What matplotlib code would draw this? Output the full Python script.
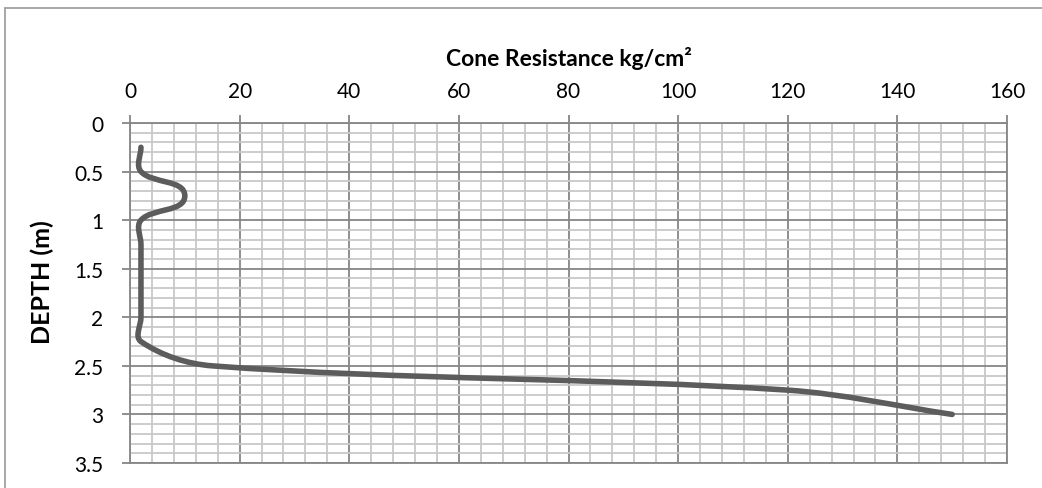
import numpy as np
import matplotlib
matplotlib.use('Agg')
import matplotlib.pyplot as plt
from matplotlib.path import Path
from matplotlib.patches import PathPatch, Rectangle
from matplotlib.ticker import MultipleLocator

# cone penetration readings
depth = [0.25, 0.5, 0.75, 1.0, 1.25, 1.5, 1.75, 2.0, 2.25, 2.5, 2.75, 3.0]
resistance = [2, 2, 10, 2, 2, 2, 2, 2, 2, 15, 120, 150]

x_ticks = [0, 20, 40, 60, 80, 100, 120, 140, 160]
y_ticks = [0, 0.5, 1, 1.5, 2, 2.5, 3, 3.5]

plt.rcParams['font.family'] = ['Lato', 'DejaVu Sans']

W, H = 1042, 489
fig = plt.figure(figsize=(W / 100, H / 100), dpi=100)
ax = fig.add_axes([130 / W, 1 - 464 / H, 877 / W, 340 / H])

ax.set_xlim(0, 160)
ax.set_ylim(3.5, 0)


def smooth_path(ax, xs, ys, s=1 / 3.0):
    # excel-like smoothed line, worked out on screen coordinates:
    # tangent through neighbours, handle length scaled by segment length
    pts = ax.transData.transform(np.column_stack([xs, ys]))
    n = len(pts)
    tang = []
    for i in range(n):
        d = pts[min(i + 1, n - 1)] - pts[max(i - 1, 0)]
        tang.append(d / np.hypot(*d))
    verts = [pts[0]]
    codes = [Path.MOVETO]
    for i in range(n - 1):
        seg = np.hypot(*(pts[i + 1] - pts[i]))
        c1 = pts[i] + tang[i] * seg * s
        c2 = pts[i + 1] - tang[i + 1] * seg * s
        verts += [c1, c2, pts[i + 1]]
        codes += [Path.CURVE4] * 3
    verts = ax.transData.inverted().transform(np.array(verts))
    return Path(verts, codes)


patch = PathPatch(smooth_path(ax, resistance, depth), facecolor='none',
                  edgecolor='#5c5c5c', lw=4.0, capstyle='round',
                  joinstyle='round', zorder=5)
ax.add_patch(patch)

ax.set_xticks(x_ticks)
ax.set_yticks(y_ticks)
ax.set_yticklabels([('%g' % v) for v in y_ticks])
ax.xaxis.set_minor_locator(MultipleLocator(4))
ax.yaxis.set_minor_locator(MultipleLocator(0.1))

ax.xaxis.tick_top()
ax.tick_params(which='major', length=6, width=1.3, color='#868686',
               labelsize=15, labelcolor='black')
ax.tick_params(axis='x', which='major', pad=10)
ax.tick_params(axis='y', which='major', pad=13)
ax.tick_params(which='minor', length=0)

ax.grid(which='minor', color='#c8c8c8', lw=1.3, zorder=0)
ax.grid(which='major', color='#868686', lw=1.3, zorder=1)
ax.set_axisbelow(True)
for s in ax.spines.values():
    s.set_color('#868686')
    s.set_linewidth(1.3)

ax.text(0.5, 1 + 66 / 340, 'Cone Resistance kg/cm\u00b2', transform=ax.transAxes,
        ha='center', va='center', fontsize=16.5, fontweight='bold')
ax.text((42 - 130) / 877, 1 - (282 - 124) / 340, 'DEPTH (m)',
        transform=ax.transAxes, ha='center', va='center', rotation=90,
        fontsize=18, fontweight='bold')

# chart area border (cut off at right and bottom)
fig.patches.append(Rectangle((5 / W, -0.2), 1.2, 1.2 - 9 / H,
                             transform=fig.transFigure, fill=False,
                             edgecolor='#a0a0a0', lw=1.3))

fig.savefig('out.png', dpi=100)
